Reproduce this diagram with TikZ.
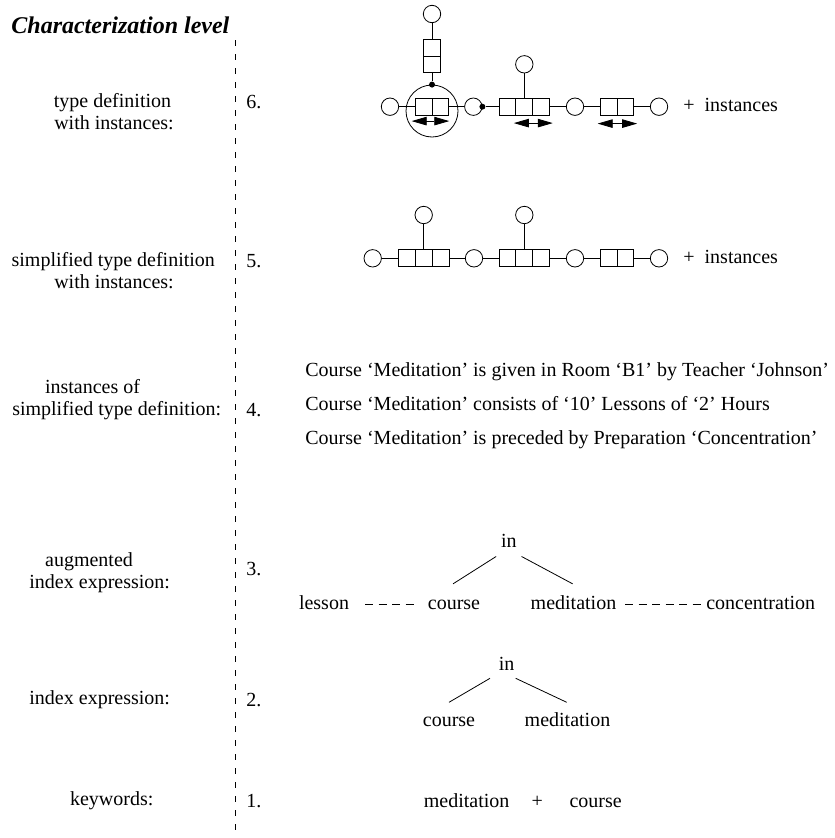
\documentclass[tikz,border=0pt]{standalone}
\usepackage{fontspec}
\setmainfont{Liberation Serif}
\usetikzlibrary{arrows.meta}

\begin{document}
\begin{tikzpicture}[
	x=1pt, y=-1pt,
	line width=0.8pt,
	every node/.style={font=\fontsize{20}{23}\selectfont},
	word/.style={inner sep=0pt, anchor=base},
	ring/.style={circle, draw, minimum size=17.4pt, inner sep=0pt},
	cell/.style={draw, rectangle, minimum width=16.9pt, minimum height=17pt, inner sep=0pt},
	dot/.style={circle, fill, minimum size=6pt, inner sep=0pt},
	swap/.style={{Triangle[length=15pt,width=8.5pt]}-{Triangle[length=15pt,width=8.5pt]}},
	gap/.style={dash pattern=on 8pt off 5.5pt}
	]
	
	\useasboundingbox (0,0) rectangle (835,838);
	
	%-----------------------
	% Customizable heights
	%-----------------------
	\def\hsix{106.7}   % Level 6: chain row
	\def\hfive{258.3}  % Level 5: chain row
	\def\hfour{376}    % Level 4: first sentence (baseline)
	\def\hthree{609.6} % Level 3: words (baseline)
	\def\htwo{726.3}   % Level 2: words (baseline)
	\def\hone{807.6}   % Level 1: keywords (baseline)
	
	%-----------------------
	% Title and divider
	%-----------------------
	\node[word, anchor=base west, font=\fontsize{24}{28}\selectfont\bfseries\itshape] (title) at (11,33) {Characterization level};
	\coordinate (div-top) at (235,40);
	\coordinate (div-bot) at (235,838);
	\draw[dash pattern=on 6pt off 8pt] (div-top) -- (div-bot);
	
	%-----------------------
	% Left column: level names
	%-----------------------
	\node[word] (lab6a) at (112.5,107) {type definition};
	\node[word] (lab6b) at (114,129) {with instances:};
	\node[word] (lab5a) at (113.3,266) {simplified type definition};
	\node[word] (lab5b) at (114,288) {with instances:};
	\node[word] (lab4a) at (92.5,393) {instances of};
	\node[word] (lab4b) at (116.7,415) {simplified type definition:};
	\node[word] (lab3a) at (89,566) {augmented};
	\node[word] (lab3b) at (99.7,588) {index expression:};
	\node[word] (lab2) at (99.7,704) {index expression:};
	\node[word] (lab1) at (111.7,805) {keywords:};
	
	%-----------------------
	% Level numbers
	%-----------------------
	\node[word, anchor=base west] (num6) at (246,108) {6.};
	\node[word, anchor=base west] (num5) at (246,267) {5.};
	\node[word, anchor=base west] (num4) at (246,416) {4.};
	\node[word, anchor=base west] (num3) at (246,575) {3.};
	\node[word, anchor=base west] (num2) at (246,706) {2.};
	\node[word, anchor=base west] (num1) at (246,807) {1.};
	
	%-----------------------
	% Level 6: type definition
	%-----------------------
	\node[ring] (R6t) at (432,14) {};
	\node[cell, minimum height=16.7pt] (V6a) at (432,47.7) {};
	\node[cell, minimum height=16.7pt] (V6b) at (432,64.4) {};
	\node[circle, draw, minimum size=52pt, inner sep=0pt] (big6) at (432,111) {};
	\node[dot] (D6t) at (big6.north) {};
	
	\node[ring] (R6a) at (390,\hsix) {};
	\node[cell] (C6a1) at (423.5,\hsix) {};
	\node[cell] (C6a2) at (440.4,\hsix) {};
	\node[ring] (R6b) at (473.3,\hsix) {};
	\node[dot] (D6b) at (R6b.east) {};
	\node[cell] (C6b1) at (507.4,\hsix) {};
	\node[cell] (C6b2) at (524.3,\hsix) {};
	\node[cell] (C6b3) at (541.2,\hsix) {};
	\node[ring] (R6u) at (524.3,64.3) {};
	\node[ring] (R6c) at (575,\hsix) {};
	\node[cell] (C6c1) at (608.5,\hsix) {};
	\node[cell] (C6c2) at (625.4,\hsix) {};
	\node[ring] (R6d) at (659,\hsix) {};
	\node[word, anchor=base west] (inst6) at (683,111.5) {+\enspace instances};
	
	\draw (R6t) -- (V6a);
	\draw (V6b) -- (D6t);
	\draw (R6a) -- (C6a1);
	\draw (C6a2) -- (R6b);
	\draw (D6b) -- (C6b1);
	\draw (R6u) -- (C6b2);
	\draw (C6b3) -- (R6c);
	\draw (R6c) -- (C6c1);
	\draw (C6c2) -- (R6d);
	
	% order arrows under the keys
	\draw[swap] ([shift={(-3pt,-5.5pt)}]C6a1.south west) -- ([shift={(0pt,-5.5pt)}]C6a2.south east);
	\draw[swap] ([shift={(15.3pt,-7.5pt)}]C6b1.south west) -- ([shift={(2.7pt,-7.5pt)}]C6b3.south east);
	\draw[swap] ([shift={(-2pt,-8pt)}]C6c1.south west) -- ([shift={(2.9pt,-8pt)}]C6c2.south east);
	
	%-----------------------
	% Level 5: simplified type definition
	%-----------------------
	\node[ring] (R5a) at (372.7,\hfive) {};
	\node[cell] (C5a1) at (406.8,\hfive) {};
	\node[cell] (C5a2) at (423.7,\hfive) {};
	\node[cell] (C5a3) at (440.6,\hfive) {};
	\node[ring] (R5u) at (423.7,215) {};
	\node[ring] (R5b) at (474,\hfive) {};
	\node[cell] (C5b1) at (507.4,\hfive) {};
	\node[cell] (C5b2) at (524.3,\hfive) {};
	\node[cell] (C5b3) at (541.2,\hfive) {};
	\node[ring] (R5v) at (524.3,215) {};
	\node[ring] (R5c) at (575,\hfive) {};
	\node[cell] (C5c1) at (608.5,\hfive) {};
	\node[cell] (C5c2) at (625.4,\hfive) {};
	\node[ring] (R5d) at (659,\hfive) {};
	\node[word, anchor=base west] (inst5) at (683,263.1) {+\enspace instances};
	
	\draw (R5a) -- (C5a1);
	\draw (R5u) -- (C5a2);
	\draw (C5a3) -- (R5b);
	\draw (R5b) -- (C5b1);
	\draw (R5v) -- (C5b2);
	\draw (C5b3) -- (R5c);
	\draw (R5c) -- (C5c1);
	\draw (C5c2) -- (R5d);
	
	%-----------------------
	% Level 4: instances
	%-----------------------
	\node[word, anchor=base west] (sen1) at (305,\hfour) {Course `Meditation' is given in Room `B1' by Teacher `Johnson'};
	\node[word, anchor=base west] (sen2) at (305,\hfour+34) {Course `Meditation' consists of `10' Lessons of `2' Hours};
	\node[word, anchor=base west] (sen3) at (305,\hfour+68) {Course `Meditation' is preceded by Preparation `Concentration'};
	
	%-----------------------
	% Level 3: augmented index expression
	%-----------------------
	\node[word] (in3) at (508.8,547.8) {in};
	\node[word] (lesson3) at (324,\hthree) {lesson};
	\node[word] (course3) at (454,\hthree) {course};
	\node[word] (medit3) at (573.5,\hthree) {meditation};
	\node[word] (conc3) at (760.7,\hthree) {concentration};
	
	\draw ([shift={(-12.7pt,-8.7pt)}]in3.base) -- ([shift={(-0.9pt,25.8pt)}]course3.base);
	\draw ([shift={(12.8pt,-8.7pt)}]in3.base) -- ([shift={(-0.9pt,25.8pt)}]medit3.base);
	\draw[gap] ([shift={(15.8pt,5pt)}]lesson3.base east) -- ([shift={(-9.6pt,5pt)}]course3.base west);
	\draw[gap] ([shift={(8.5pt,5pt)}]medit3.base east) -- ([shift={(-4.3pt,5pt)}]conc3.base west);
	
	%-----------------------
	% Level 2: index expression
	%-----------------------
	\node[word] (in2) at (506.7,670) {in};
	\node[word] (course2) at (449,\htwo) {course};
	\node[word] (medit2) at (567.5,\htwo) {meditation};
	
	\draw ([shift={(-16.7pt,-8.3pt)}]in2.base) -- ([shift={(0pt,24pt)}]course2.base);
	\draw ([shift={(9pt,-8.3pt)}]in2.base) -- ([shift={(-0.8pt,24pt)}]medit2.base);
	
	%-----------------------
	% Level 1: keywords
	%-----------------------
	\node[word] (medit1) at (466.7,\hone) {meditation};
	\node[word] (plus1) at (537.3,\hone) {+};
	\node[word] (course1) at (595.7,\hone) {course};
	
\end{tikzpicture}
\end{document}
